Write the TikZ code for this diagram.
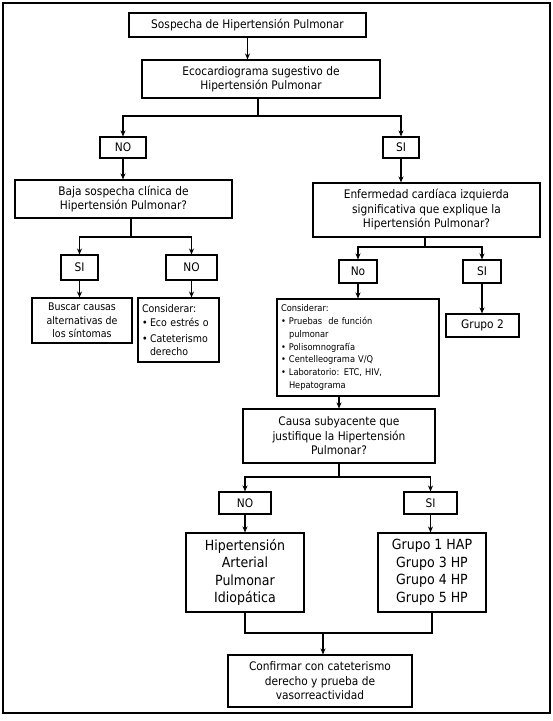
\documentclass[tikz,border=0pt]{standalone}
\usepackage{fontspec}
\setmainfont{DejaVu Sans Condensed}
\usetikzlibrary{arrows.meta}
\newcommand{\bul}{\makebox[8pt][l]{\textbullet}}
\newcommand{\ind}{\hspace*{8pt}}
\begin{document}
\begin{tikzpicture}[x=1pt,y=-1pt,
  box/.style={draw, line width=1.1pt, inner sep=3pt, align=center, font=\fontsize{11.8}{14.5}\selectfont},
  lbox/.style={draw, line width=1.1pt, inner sep=4pt, align=left, font=\fontsize{10.5}{13.5}\selectfont},
  big/.style={draw, line width=1.1pt, inner sep=3pt, align=center, font=\fontsize{14}{17.5}\selectfont},
  ln/.style={line width=1.1pt},
  arr/.style={line width=1.1pt, -{Stealth[length=6pt,width=5pt]}}]
\useasboundingbox (0,0) rectangle (553,721);
\node[draw, line width=1.1pt, minimum width=547pt, minimum height=710pt, inner sep=0pt] (frame) at (276.5,358) {};

\node[box, minimum width=237pt, minimum height=24pt] (b1) at (247.5,25) {Sospecha de Hipertensión Pulmonar};
\node[box, minimum width=238pt, minimum height=38pt] (b2) at (261,79) {Ecocardiograma sugestivo de\\Hipertensión Pulmonar};
\node[box, minimum width=46pt, minimum height=21pt] (no1) at (123,147.5) {NO};
\node[box, minimum width=36pt, minimum height=21pt] (si1) at (401,147.5) {SI};
\node[box, minimum width=217pt, minimum height=38pt] (baja) at (123.5,199) {Baja sospecha clínica de\\Hipertensión Pulmonar?};
\node[box, minimum width=227pt, minimum height=54pt] (enf) at (426.5,210) {Enfermedad cardíaca izquierda\\significativa que explique la\\Hipertensión Pulmonar?};
\node[box, minimum width=37pt, minimum height=25pt] (si2) at (79.5,267.5) {SI};
\node[box, minimum width=51pt, minimum height=25pt] (no2) at (191.5,267.5) {NO};
\node[box, font=\fontsize{10.5}{13.5}\selectfont, minimum width=100pt, minimum height=45pt] (busc) at (82,320.5) {Buscar causas\\alternativas de\\los síntomas};
\node[lbox, text width=73pt, minimum height=64pt, inner sep=4pt] (cons1) at (178.5,330) {Considerar:\\[1pt]\bul Eco estrés o\\[2pt]\bul Cateterismo\\\ind derecho};
\node[box, minimum width=38pt, minimum height=23pt] (no3) at (358,271.5) {No};
\node[box, minimum width=38pt, minimum height=23pt] (si3) at (482,271.5) {SI};
\node[lbox, text width=154pt, minimum height=97pt, font=\fontsize{9.2}{12.8}\selectfont] (cons2) at (358,347.5) {Considerar:\\\bul Pruebas~ de función\\\ind pulmonar\\\bul Polisomnografía\\\bul Centelleograma V/Q\\\bul Laboratorio: ETC, HIV,\\\ind Hepatograma};
\node[box, minimum width=73pt, minimum height=23pt] (g2) at (482.5,325.5) {Grupo 2};
\node[box, minimum width=192pt, minimum height=54pt] (causa) at (339,436) {Causa subyacente que\\justifique la Hipertensión\\Pulmonar?};
\node[box, minimum width=52pt, minimum height=22pt] (no4) at (245,503) {NO};
\node[box, minimum width=53pt, minimum height=22pt] (si4) at (430.5,503) {SI};
\node[big, minimum width=118pt, minimum height=79pt] (hap) at (245,572.5) {Hipertensión\\Arterial\\Pulmonar\\Idiopática};
\node[big, minimum width=108pt, minimum height=79pt] (grp) at (432,572.5) {Grupo 1 HAP\\Grupo 3 HP\\Grupo 4 HP\\Grupo 5 HP};
\node[box, minimum width=184pt, minimum height=52pt] (conf) at (320,681) {Confirmar con cateterismo\\derecho y prueba de\\vasorreactividad};

% connectors
\draw[arr] (b1) -- (b1|-b2.north);
\coordinate (j1) at (258,116);
\draw[ln] (b2.south-|j1) -- (j1);
\draw[arr] (j1) -| (no1.north);
\draw[arr] (j1) -| (si1.north);
\draw[arr] (no1) -- (no1|-baja.north);
\draw[arr] (si1.south) -- (si1|-enf.north);

\coordinate (j2) at (131,237);
\draw[ln] (baja.south-|j2) -- (j2);
\draw[arr] (j2) -| (si2.north);
\draw[arr] (j2) -| (no2.north);
\draw[arr] (si2) -- (si2|-busc.north);
\draw[arr] (no2) -- (no2|-cons1.north);

\coordinate (j3) at (425,247);
\draw[ln] (enf.south-|j3) -- (j3);
\draw[arr] (j3) -| (no3.north);
\draw[arr] (j3) -| (si3.north);
\draw[arr] (no3) -- (no3|-cons2.north);
\draw[arr] (si3) -- (si3|-g2.north);

\coordinate (j4) at (339,477);
\draw[arr] (cons2.south-|causa.north) -- (causa.north);
\draw[ln] (causa.south) -- (j4);
\draw[arr] (j4) -| (no4.north);
\draw[arr] (j4) -| (si4.north);
\draw[arr] (no4) -- (no4|-hap.north);
\draw[arr] (si4) -- (si4|-grp.north);

\coordinate (j5) at (323,633);
\draw[ln] (hap.south) |- (j5) -| (grp.south);
\draw[arr] (j5) -- (j5|-conf.north);
\end{tikzpicture}
\end{document}
